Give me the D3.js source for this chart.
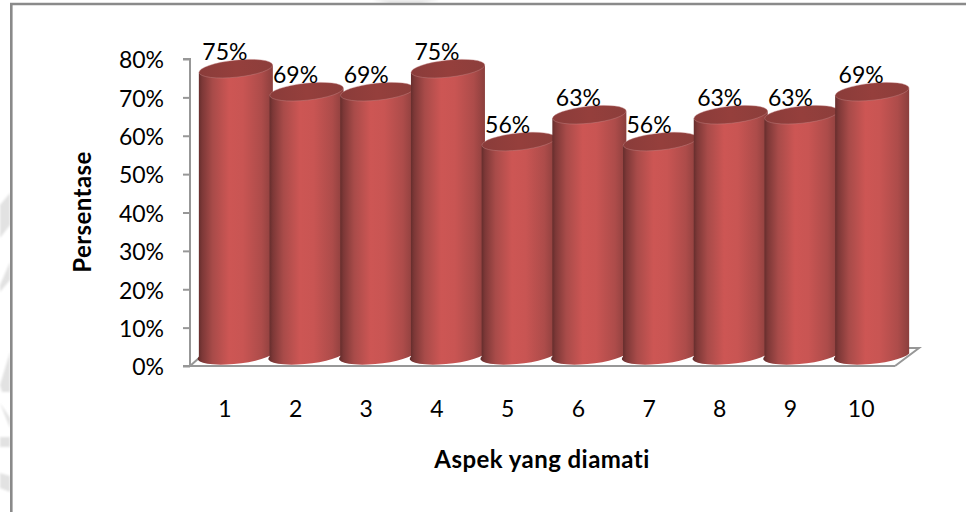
<!DOCTYPE html>
<html>
<head>
<meta charset="utf-8">
<script src="https://cdnjs.cloudflare.com/ajax/libs/d3/7.9.0/d3.min.js"></script>
<style>
html,body{margin:0;padding:0;background:#fff}
svg{display:block}
text{font-family:Lato,"Open Sans",sans-serif;fill:#000}
</style>
</head>
<body>
<svg id="chart" width="966" height="512"></svg>
<script>
const categories = ["1","2","3","4","5","6","7","8","9","10"];
const percentValues = [75,69,69,75,56,63,56,63,63,69];
const percentTicks = [0,10,20,30,40,50,60,70,80];
const axisColor = "#979797";

const svg = d3.select("#chart");
const defs = svg.append("defs");

// Faint page artefacts showing around the chart's frame
defs.append("filter").attr("id","soft").append("feGaussianBlur").attr("stdDeviation",1.2);
const marginMarks = svg.append("g").attr("fill","#e2e2e2").attr("filter","url(#soft)");
["M0 205L10 193V225L0 238Z","M0 285L10 262V280L0 292Z","M0 385L10 352V392H2Z","M0 403L10 418V428Z","M0 437H10V447H0Z","M0 473L10 476V492L0 488Z","M372 0H440L420 3H390Z"]
  .forEach(d => marginMarks.append("path").attr("d", d));

// Cylinder body shading runs left to right across each column
const bodyStops = [[0,"#5e2a29"],[0.06,"#7d3837"],[0.2,"#a84b49"],[0.42,"#cd5654"],[0.6,"#c95553"],[0.85,"#ad4c4a"],[1,"#8b3f3d"]];
const bodyGrad = defs.append("linearGradient").attr("id","cylBody");
bodyStops.forEach(s=>bodyGrad.append("stop").attr("offset",s[0]).attr("stop-color",s[1]));
const capGrad = defs.append("linearGradient").attr("id","cylCap");
[[0,"#8a3c3a"],[0.5,"#953f3c"],[1,"#8c3e3b"]].forEach(s=>capGrad.append("stop").attr("offset",s[0]).attr("stop-color",s[1]));

// Outer frame of the chart area
svg.append("path").attr("d","M11.3 512V4H966").attr("fill","none").attr("stroke","#8a8a8a").attr("stroke-width",2.6);

const y = d3.scaleLinear().domain([0,80]).range([366,59]);
const x = d3.scaleBand().domain(categories).range([200.5,907.5]).paddingInner(0).paddingOuter(0);
const barDepth = 9.5;   // lift of the column base above the front axis line
const rx = 37, ry = 8.5, tilt = -6;

// Floor of the 3D plot
svg.append("path")
  .attr("d",`M190 ${y(0)}L199 ${y(0)-8}M895 ${y(0)}L919 ${y(0)-18}H905`)
  .attr("fill","none").attr("stroke",axisColor).attr("stroke-width",2);

// Value axis with its tick labels
const yAxis = svg.append("g").attr("transform","translate(190,0)")
  .call(d3.axisLeft(y).tickValues(percentTicks).tickSize(7).tickPadding(19).tickFormat(d=>d+"%"));
yAxis.selectAll("path,line").attr("stroke",axisColor).attr("stroke-width",2);
yAxis.select(".domain").attr("d",`M-7 ${y(80)}H0V${y(0)}H-7`);
yAxis.selectAll("text").attr("font-size",23).style("font-family","Lato,sans-serif").attr("dy","0.38em");

// Category baseline
svg.append("line").attr("x1",183).attr("x2",895).attr("y1",y(0)).attr("y2",y(0))
  .attr("stroke",axisColor).attr("stroke-width",2);

// Columns are drawn left to right so each one overlaps the previous
const cols = svg.append("g").selectAll("g").data(categories).join("g")
  .attr("transform",d=>`translate(${x(d)+x.bandwidth()/2},0)`);

cols.append("path")
  .attr("fill","url(#cylBody)")
  .attr("d",(d,i)=>{
    const top = y(percentValues[i]) - barDepth;
    const base = y(0) - barDepth;
    return `M${-rx} ${top+3.5}V${base}A${rx} ${ry} ${tilt} 0 0 ${rx} ${base-3}V${top-3.5}Z`;
  });
cols.append("ellipse")
  .attr("rx",rx).attr("ry",ry)
  .attr("fill","url(#cylCap)")
  .attr("stroke","#c58a88").attr("stroke-width",0.4)
  .attr("transform",(d,i)=>`translate(0,${y(percentValues[i])-barDepth}) rotate(${tilt})`);

// Value labels above each column
cols.append("text")
  .attr("text-anchor","middle").attr("font-size",23)
  .attr("x",-11)
  .attr("y",(d,i)=>y(percentValues[i])-barDepth-9)
  .text((d,i)=>percentValues[i]+"%");

// Category labels
svg.append("g").selectAll("text").data(categories).join("text")
  .attr("text-anchor","middle").attr("font-size",23)
  .attr("x",d=>x(d)+x.bandwidth()/2-11)
  .attr("y",417)
  .text(d=>d);

// Axis titles
svg.append("text").attr("x",542).attr("y",468).attr("text-anchor","middle")
  .attr("font-size",24).attr("font-weight",700).attr("letter-spacing",0.45).text("Aspek yang diamati");
svg.append("text").attr("transform","translate(91,212) rotate(-90)").attr("text-anchor","middle")
  .attr("font-size",24).attr("font-weight",700).attr("letter-spacing",0.45).text("Persentase");
</script>
</body>
</html>
